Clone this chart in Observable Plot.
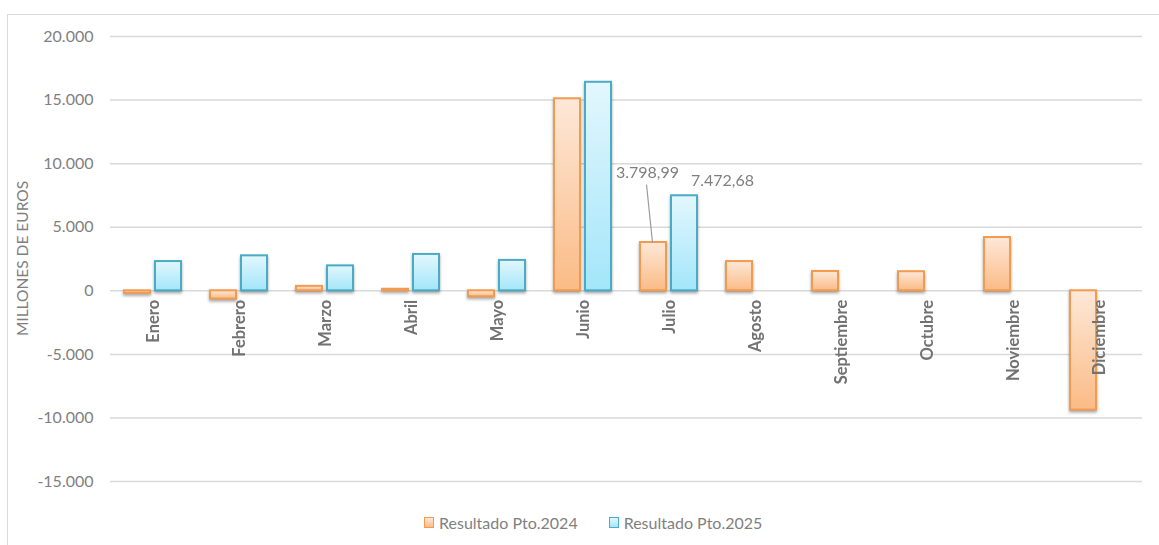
<!DOCTYPE html>
<html><head><meta charset="utf-8">
<script src="https://cdn.jsdelivr.net/npm/d3@7"></script>
<script src="https://cdn.jsdelivr.net/npm/@observablehq/plot@0.6"></script>
<style>
html,body{margin:0;padding:0;background:#fff;}
body{width:1159px;height:545px;overflow:hidden;position:relative;font-family:Lato,"Open Sans",sans-serif;}
#frame{position:absolute;left:7px;top:14px;width:1170px;height:560px;border-top:1.5px solid #d9d9d9;border-left:1.5px solid #d9d9d9;}
#chart{position:absolute;left:0;top:0;}
#legend{position:absolute;left:424px;top:513px;display:flex;align-items:center;font-size:16px;color:#7f7f7f;white-space:nowrap;}
#legend .item{display:flex;align-items:center;margin-right:31px;}
#legend .sw{display:inline-block;width:8px;height:9px;margin-right:5px;}
</style></head><body>
<div id="frame"></div>
<div id="chart"></div>
<div id="legend"></div>
<script>
// ---- data ----
const months = ["Enero","Febrero","Marzo","Abril","Mayo","Junio","Julio","Agosto","Septiembre","Octubre","Noviembre","Diciembre"];
const seriesKeys = ["2024","2025"];
const seriesNames = ["Resultado Pto.2024","Resultado Pto.2025"];
const res2024 = [-200, -650, 350, 120, -470, 15100, 3798.99, 2300, 1520, 1500, 4190, -9380];
const res2025 = [2300, 2750, 1960, 2860, 2390, 16400, 7472.68, null, null, null, null, null];
const yTicks = [-15000, -10000, -5000, 0, 5000, 10000, 15000, 20000];
const yDomain = [-20000, 20000];
const labelledMonth = "Julio";

// ---- styles ----
const colors = {
  "2024": {stroke: "#f39a4f", top: "#fde8d8", bottom: "#fbbb86", id: "grad2024"},
  "2025": {stroke: "#4aabc6", top: "#e3f7fd", bottom: "#a3e6fa", id: "grad2025"}
};

const rows = [];
months.forEach((m, i) => {
  if (res2024[i] != null) rows.push({month: m, year: "2024", value: res2024[i]});
  if (res2025[i] != null) rows.push({month: m, year: "2025", value: res2025[i]});
});
const labelRows = rows.filter(d => d.month === labelledMonth);

const loc = d3.formatLocale({decimal: ",", thousands: ".", grouping: [3], currency: ["", "€"], minus: "-"});
const fmtInt = loc.format(",.0f");
const fmtDec = loc.format(",.2f");

const plot = Plot.plot({
  width: 1159,
  height: 505,
  marginLeft: 108,
  marginRight: 16,
  marginTop: 36,
  marginBottom: 0,
  style: {fontFamily: "Lato, 'Open Sans', sans-serif", fontSize: "16px", color: "#7f7f7f", background: "transparent"},
  fx: {domain: months, padding: 0, axis: null},
  x: {domain: seriesKeys, paddingInner: 0.156, paddingOuter: 0.4255, axis: null},
  y: {domain: yDomain, range: [544.6, 36], ticks: yTicks, tickFormat: fmtInt, tickSize: 0, tickPadding: 17, label: null},
  marks: [
    Plot.gridY(yTicks, {stroke: "#d9d9d9", strokeOpacity: 1, strokeWidth: 1.5}),
    Plot.barY(rows.filter(d => d.year === "2024"), {fx: "month", x: "year", y: "value", fill: `url(#${colors["2024"].id})`, stroke: colors["2024"].stroke, strokeWidth: 2}),
    Plot.barY(rows.filter(d => d.year === "2025"), {fx: "month", x: "year", y: "value", fill: `url(#${colors["2025"].id})`, stroke: colors["2025"].stroke, strokeWidth: 2}),
    Plot.text(months, {fx: d => d, y: d => 0, text: d => d, rotate: -90, textAnchor: "end", dy: 9, fontWeight: "bold", fontSize: 16.5, fill: "#727272"}),
    Plot.link(labelRows.filter(d => d.year === "2024"), {
      fx: "month", x1: "year", x2: "year", y1: "value", y2: "value", stroke: "#9b9b9b", strokeWidth: 1.2,
      render(index, scales, values, dims, ctx, next) {
        const x1 = Float64Array.from(values.x1, v => v - 7);
        const y1 = Float64Array.from(values.y1, v => v - 58);
        const x2 = Float64Array.from(values.x2, v => v - 1);
        return next(index, scales, {...values, x1, y1, x2}, dims, ctx);
      }
    }),
    Plot.text(labelRows.filter(d => d.year === "2024"), {fx: "month", x: "year", y: "value", text: d => fmtDec(d.value), dx: -6, dy: -70, fontSize: 16, fill: "#7f7f7f"}),
    Plot.text(labelRows.filter(d => d.year === "2025"), {fx: "month", x: "year", y: "value", text: d => fmtDec(d.value), dx: 38, dy: -15, fontSize: 16, fill: "#7f7f7f"}),
    Plot.text(["MILLONES DE EUROS"], {fx: () => months[0], frameAnchor: "left", textAnchor: "middle", text: d => d, rotate: -90, dx: -87.5, dy: -12.5, fontSize: 15.5, letterSpacing: "0.5px", fill: "#7f7f7f"})
  ]
});

// gradients for bar fills
const svg = d3.select(plot);
const defs = svg.insert("defs", ":first-child");
for (const k of seriesKeys) {
  const g = defs.append("linearGradient").attr("id", colors[k].id).attr("x1", 0).attr("y1", 0).attr("x2", 0).attr("y2", 1);
  g.append("stop").attr("offset", "0%").attr("stop-color", colors[k].top);
  g.append("stop").attr("offset", "100%").attr("stop-color", colors[k].bottom);
}
svg.selectAll('g[aria-label="bar"]').style("filter", "drop-shadow(0px 2.5px 1.5px rgba(0,0,0,0.35))");

document.getElementById("chart").appendChild(plot);

// legend
const legend = d3.select("#legend");
seriesKeys.forEach((k, i) => {
  const item = legend.append("div").attr("class", "item");
  item.append("span").attr("class", "sw")
    .style("background", `linear-gradient(${colors[k].top}, ${colors[k].bottom})`)
    .style("border", `1.5px solid ${colors[k].stroke}`);
  item.append("span").text(seriesNames[i]);
});
</script>
</body></html>
